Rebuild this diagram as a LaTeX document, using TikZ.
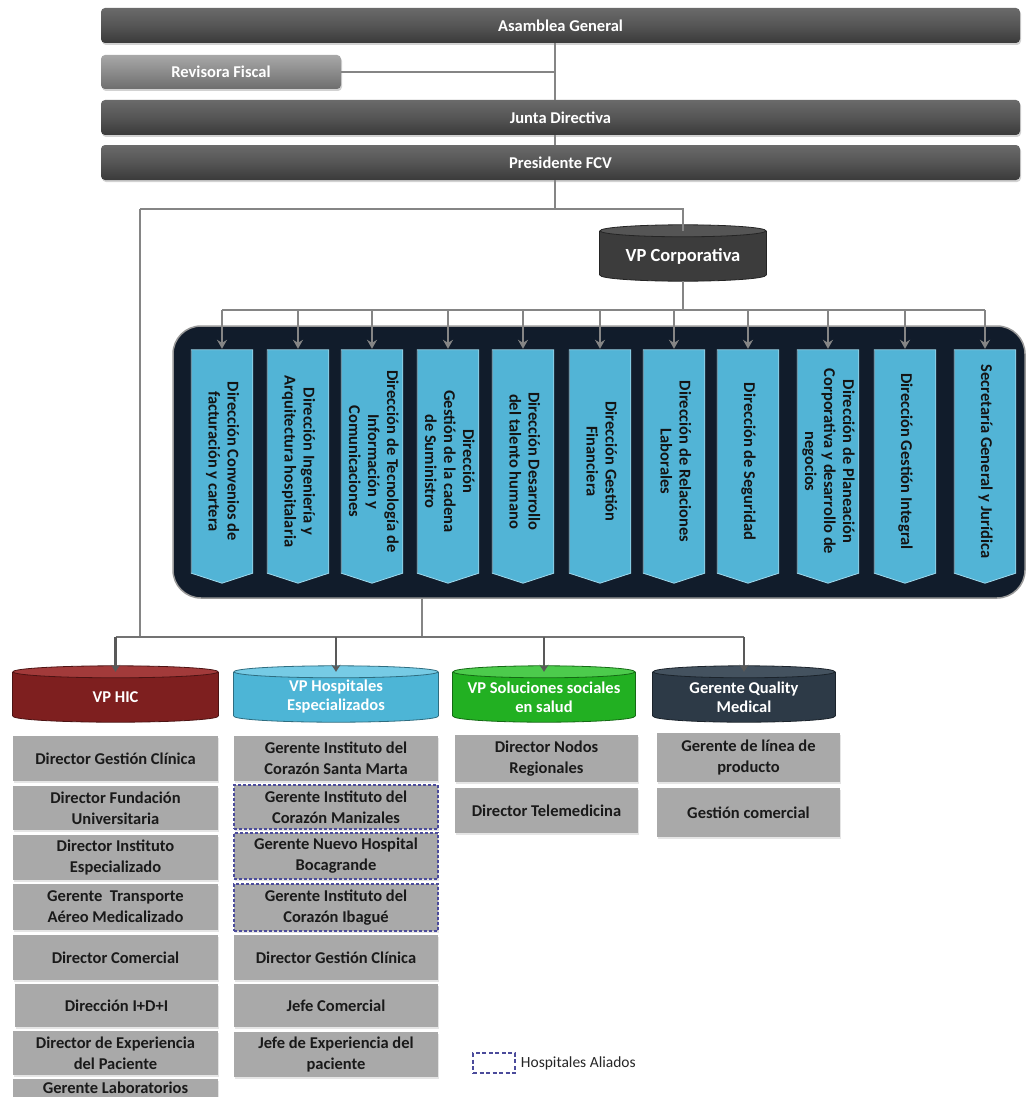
\documentclass[tikz,border=0pt]{standalone}
\usepackage{fontspec}
\usepackage{graphicx}
\setmainfont{Carlito}
\usetikzlibrary{arrows.meta,calc,shadows,backgrounds}
\definecolor{barT}{HTML}{6A6A6A}
\definecolor{barM}{HTML}{555555}
\definecolor{barB}{HTML}{3A3A3A}
\definecolor{revT}{HTML}{A8A8A8}
\definecolor{revM}{HTML}{8E8E8E}
\definecolor{revB}{HTML}{6E6E6E}
\definecolor{connc}{HTML}{858585}
\definecolor{navyc}{HTML}{111C2B}
\definecolor{dirblue}{HTML}{52B4D6}
\definecolor{diredge}{HTML}{9ED8EC}
\definecolor{dirtext}{HTML}{141414}
\definecolor{boxgray}{HTML}{A9A9A9}
\definecolor{textdark}{HTML}{1A1A1A}
\definecolor{dashc}{HTML}{4B4B9B}
\definecolor{hicB}{HTML}{7E1F1F}
\definecolor{hicT}{HTML}{A23A3A}
\definecolor{hospB}{HTML}{4DB5D6}
\definecolor{hospT}{HTML}{76CBE5}
\definecolor{solB}{HTML}{22B022}
\definecolor{solT}{HTML}{4CCB4C}
\definecolor{qmB}{HTML}{2D3A47}
\definecolor{qmT}{HTML}{44525F}
\definecolor{vpcB}{HTML}{3C3C3C}
\definecolor{vpcT}{HTML}{555555}
\newcommand\cylbg[4]{%
  \filldraw[fill=#3, draw=#3!60!black, line width=0.8pt] ($(#1.south)+(0,-6)$) ellipse[x radius=#2pt, y radius=6pt];
  \fill[#3] (#1.north west) rectangle ($(#1.south east)+(0,-6)$);
  \draw[#3!60!black, line width=0.8pt] (#1.north west) -- ($(#1.south west)+(0,-6)$) (#1.north east) -- ($(#1.south east)+(0,-6)$);
  \filldraw[fill=#4, draw=#3!60!black, line width=0.8pt] (#1.north) ellipse[x radius=#2pt, y radius=6pt];
}
\begin{document}
\begin{tikzpicture}[x=1pt,y=-1pt,
  bfont/.style={font=\fontsize{16.5}{19}\selectfont\bfseries},
  bar/.style={bfont, rounded corners=4pt, top color=barT, bottom color=barB, middle color=barM, text=white, inner sep=0pt, minimum width=919, minimum height=35, drop shadow={opacity=0.35, shadow xshift=1pt, shadow yshift=-2pt}},
  revbar/.style={bar, top color=revT, middle color=revM, bottom color=revB},
  conn/.style={draw=connc, line width=1.5pt},
  arr/.style={draw=connc, line width=1.5pt, -{Stealth[length=9pt,width=10pt,inset=3pt]}, shorten >=1pt},
  arrtwo/.style={draw=black!65, line width=2.5pt, -{Stealth[length=7pt,width=9pt]}},
  navy/.style={fill=navyc, draw=black!40, line width=1.5pt, rounded corners=28pt, inner sep=0pt},
  dirbox/.style={bfont, fill=dirblue, minimum width=61, minimum height=223, inner sep=0pt, text=dirtext},
  diredgest/.style={draw=diredge, line width=0.8pt},
  cyl/.style={bfont, minimum height=50, inner sep=0pt, text=white, align=center},
  graybox/.style={font=\fontsize{16.5}{21}\selectfont\bfseries, fill=boxgray, text=textdark, align=center, inner sep=0pt, drop shadow={opacity=0.2, shadow xshift=1pt, shadow yshift=-1.5pt}},
  aliado/.style={graybox, draw=dashc, dash pattern=on 3pt off 2pt, line width=1.2pt}
]
\useasboundingbox (0,0) rectangle (1026,1097);
\clip (0,0) rectangle (1026,1097);
\begin{scope}[on background layer]
  \fill[white] (0,0) rectangle (1026,1097);
\end{scope}

% coordinates for connector routing
\coordinate (spine) at (555,0);
\coordinate (br) at (0,209);
\coordinate (lft) at (140,0);
\coordinate (hb) at (0,310);
\coordinate (bus) at (0,637);
\coordinate (mid) at (422,0);

% top bars
\node[bar] (asam) at (560.5,25.5) {Asamblea General};
\node[revbar, minimum width=240, minimum height=34] (rev) at (221,72) {Revisora Fiscal};
\node[bar] (junta) at (560.5,117.5) {Junta Directiva};
\node[bar] (pres) at (560.5,162.5) {Presidente FCV};

\draw[conn] (spine |- asam.south) -- (spine |- junta.north);
\draw[conn] (rev.east) -- (rev.east -| spine);
\draw[conn] (spine |- junta.south) -- (spine |- pres.north);
\draw[conn] (spine |- pres.south) -- (spine |- br);

% VP Corporativa
\node[cyl, minimum width=166, font=\fontsize{18.5}{21}\selectfont\bfseries] (vpc) at (683,256) {VP Corporativa};
\draw[conn] (lft |- br) -- (vpc.north |- br) -- (vpc.north);

% corporate directions
\node[navy, minimum width=852, minimum height=272] (corp) at (599,462) {};
\draw[conn] (vpc.south) -- (vpc.south |- hb);
\foreach \x/\n/\t in {
  222/1/{Dirección Convenios de\\facturación y cartera},
  298/2/{Dirección Ingeniería y\\Arquitectura hospitalaria},
  372/3/{Dirección de Tecnología de\\Información y\\Comunicaciones},
  448/4/{Dirección\\Gestión de la cadena\\de Suministro},
  523/5/{Dirección Desarrollo\\del talento humano},
  600/6/{Dirección Gestión\\Financiera},
  674/7/{Dirección de Relaciones\\Laborales},
  748/8/{Dirección de Seguridad},
  828/9/{Dirección de Planeación\\Corporativa y desarrollo de\\negocios},
  905/10/{Dirección Gestión Integral},
  985/11/{Secretaría General y Jurídica}}{
  \node[dirbox] (d\n) at (\x,461.5) {\rotatebox{-90}{\begin{tabular}{@{}c@{}}\t\end{tabular}}};
  \fill[dirblue] (d\n.south west) -- (d\n.south east) -- ($(d\n.south)+(0,10)$) -- cycle;
  \draw[diredgest] (d\n.north west) -- (d\n.north east) -- (d\n.south east) -- ($(d\n.south)+(0,10)$) -- (d\n.south west) -- cycle;
  \draw[arr] (d\n.north |- hb) -- (d\n.north);
}
\draw[conn] (d1.north |- hb) -- (d11.north |- hb);

% vice presidencies
\node[cyl, minimum width=205] (hic) at (115.5,697) {VP HIC};
\node[cyl, minimum width=204] (hosp) at (336,697) {VP Hospitales\\Especializados};
\node[cyl, minimum width=182] (sol) at (544,697) {VP Soluciones sociales\\en salud};
\node[cyl, minimum width=182] (qm) at (744,697) {Gerente Quality\\Medical};

\begin{scope}[on background layer]
  \cylbg{vpc}{83}{vpcB}{vpcT}
  \cylbg{hic}{102.5}{hicB}{hicT}
  \cylbg{hosp}{102}{hospB}{hospT}
  \cylbg{sol}{91}{solB}{solT}
  \cylbg{qm}{91}{qmB}{qmT}
\end{scope}

\draw[conn] (lft |- br) -- (lft |- bus);
\draw[conn] (corp.south -| mid) -- (mid |- bus);
\draw[draw=black!55, line width=2pt] (hic.north |- bus) -- (qm.north |- bus);
\draw[arrtwo] (hic.north |- bus) -- (hic.north);
\draw[arrtwo] (hosp.north |- bus) -- (hosp.north);
\draw[arrtwo] (sol.north |- bus) -- (sol.north);
\draw[arrtwo] (qm.north |- bus) -- (qm.north);

% column 1
\node[graybox, minimum width=205, minimum height=45] (g11) at (115.5,758.5) {Director Gestión Clínica};
\node[graybox, minimum width=205, minimum height=44] (g12) at (115.5,808) {Director Fundación\\Universitaria};
\node[graybox, minimum width=205, minimum height=45] (g13) at (115.5,857.5) {Director Instituto\\Especializado};
\node[graybox, minimum width=205, minimum height=46] (g14) at (115.5,907) {Gerente\ \ Transporte\\Aéreo Medicalizado};
\node[graybox, minimum width=205, minimum height=45] (g15) at (115.5,957.5) {Director Comercial};
\node[graybox, minimum width=203, minimum height=43] (g16) at (116.5,1005.5) {Dirección I+D+I};
\node[graybox, minimum width=205, minimum height=44] (g17) at (115.5,1053) {Director de Experiencia\\del Paciente};
\node[graybox, minimum width=205, minimum height=45] (g18) at (115.5,1101.5) {Gerente Laboratorios\\[6pt]\phantom{X}};

% column 2
\node[graybox, minimum width=204, minimum height=45] (g21) at (336,758.5) {Gerente Instituto del\\Corazón Santa Marta};
\node[aliado, minimum width=204, minimum height=44] (g22) at (336,807) {Gerente Instituto del\\Corazón Manizales};
\node[aliado, minimum width=204, minimum height=46] (g23) at (336,856) {Gerente Nuevo Hospital\\Bocagrande};
\node[aliado, minimum width=204, minimum height=47] (g24) at (336,907.5) {Gerente Instituto del\\Corazón Ibagué};
\node[graybox, minimum width=204, minimum height=45] (g25) at (336,957.5) {Director Gestión Clínica};
\node[graybox, minimum width=204, minimum height=43] (g26) at (336,1005.5) {Jefe Comercial};
\node[graybox, minimum width=204, minimum height=45] (g27) at (336,1054.5) {Jefe de Experiencia del\\paciente};

% column 3
\node[graybox, minimum width=183, minimum height=47] (g31) at (546.5,758.5) {Director Nodos\\Regionales};
\node[graybox, minimum width=183, minimum height=45] (g32) at (546.5,810.5) {Director Telemedicina};

% column 4
\node[graybox, minimum width=183, minimum height=49] (g41) at (748.5,757.5) {Gerente de línea de\\producto};
\node[graybox, minimum width=183, minimum height=49] (g42) at (748.5,812.5) {Gestión comercial};

% legend
\node[draw=dashc, dash pattern=on 4pt off 2.5pt, line width=1.5pt, minimum width=42, minimum height=20, inner sep=0pt] (leg) at (494,1063) {};
\node[anchor=west, inner sep=0pt, font=\fontsize{15.5}{18}\selectfont, text=black!85] (legt) at ($(leg.east)+(5,0)$) {Hospitales Aliados};
\end{tikzpicture}
\end{document}
